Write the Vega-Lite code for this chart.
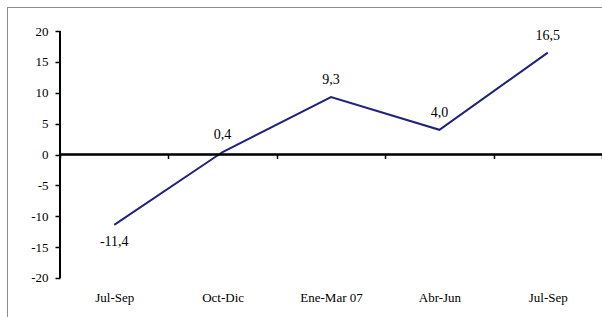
{
  "$schema": "https://vega.github.io/schema/vega-lite/v6.json",
  "width": 594,
  "height": 310,
  "padding": {"left": 8, "top": 7, "right": 0, "bottom": 0},
  "autosize": {"type": "none"},
  "background": "white",
  "config": {"view": {"stroke": null}, "font": "Liberation Serif"},
  "title": {
    "text": "(Tasa de variación respecto de igual trimestre del año anterior)",
    "font": "Liberation Serif",
    "fontSize": 15,
    "fontWeight": "normal",
    "color": "black",
    "anchor": "middle",
    "frame": "group",
    "baseline": "alphabetic",
    "offset": 4
  },
  "data": {
    "values": [
      {"q": "2006-3", "v": -11.4, "t": "-11,4"},
      {"q": "2006-4", "v": 0.4, "t": "0,4"},
      {"q": "2007-1", "v": 9.3, "t": "9,3"},
      {"q": "2007-2", "v": 4.0, "t": "4,0"},
      {"q": "2007-3", "v": 16.5, "t": "16,5"}
    ]
  },
  "resolve": {"axis": {"x": "independent", "y": "independent"}},
  "layer": [
    {
      "mark": {"type": "line", "color": "#22227a", "strokeWidth": 2},
      "encoding": {
        "x": {
          "field": "q", "type": "nominal", "sort": null,
          "scale": {"type": "band", "domain": ["2006-3", "2006-4", "2007-1", "2007-2", "2007-3"], "paddingInner": 0, "paddingOuter": 0.24, "align": 1},
          "axis": {
            "orient": "bottom", "offset": -162.5, "title": null, "domain": false,
            "tickBand": "extent", "tickSize": 4, "tickColor": "black", "tickWidth": 1.5,
            "labelPadding": 133, "labelFont": "Liberation Serif", "labelFontSize": 13,
            "labelColor": "black", "labelAngle": 0, "grid": false,
            "labelExpr": "datum.value == '2006-3' ? 'Jul-Sep' : datum.value == '2006-4' ? 'Oct-Dic' : datum.value == '2007-1' ? 'Ene-Mar 07' : datum.value == '2007-2' ? 'Abr-Jun' : datum.value == '2007-3' ? 'Jul-Sep' : ''"
          }
        },
        "y": {
          "field": "v", "type": "quantitative",
          "scale": {"domain": [-26.316, 23.887], "nice": false, "zero": false},
          "axis": {
            "orient": "left", "offset": -52, "title": null, "domain": false,
            "values": [-20, -15, -10, -5, 0, 5, 10, 15, 20],
            "labelExpr": "toString(datum.value)",
            "tickSize": 5, "tickColor": "black", "tickWidth": 1.5,
            "labelPadding": 7, "labelFont": "Liberation Serif", "labelFontSize": 13,
            "labelColor": "black", "grid": false
          }
        }
      }
    },
    {
      "mark": {"type": "rule", "color": "#8c8c8c", "strokeWidth": 1},
      "encoding": {
        "x": {"datum": "2006-3", "bandPosition": -0.4847, "axis": null},
        "y": {"datum": 23.806, "axis": null},
        "y2": {"datum": -26.5}
      }
    },
    {
      "mark": {"type": "rule", "color": "#8c8c8c", "strokeWidth": 1},
      "encoding": {
        "x": {"datum": "2006-3", "bandPosition": -0.4847, "axis": null},
        "x2": {"datum": "2007-3", "bandPosition": 1},
        "y": {"datum": 23.806, "axis": null}
      }
    },
    {
      "transform": [{"filter": "datum.v >= 0"}],
      "mark": {"type": "text", "font": "Liberation Serif", "fontSize": 14, "color": "black", "dy": -17, "baseline": "middle"},
      "encoding": {
        "x": {"field": "q", "type": "nominal", "sort": null, "axis": null},
        "y": {"field": "v", "type": "quantitative", "axis": null},
        "text": {"field": "t"}
      }
    },
    {
      "transform": [{"filter": "datum.v < 0"}],
      "mark": {"type": "text", "font": "Liberation Serif", "fontSize": 14, "color": "black", "dy": 17, "baseline": "middle"},
      "encoding": {
        "x": {"field": "q", "type": "nominal", "sort": null, "axis": null},
        "y": {"field": "v", "type": "quantitative", "axis": null},
        "text": {"field": "t"}
      }
    },
    {
      "mark": {"type": "rule", "color": "black", "strokeWidth": 2},
      "encoding": {
        "x": {"datum": "2006-3", "bandPosition": 0, "axis": null},
        "y": {"datum": -20, "axis": null},
        "y2": {"datum": 20}
      }
    },
    {
      "mark": {"type": "rule", "color": "black", "strokeWidth": 1.5},
      "encoding": {
        "x": {"datum": "2006-3", "bandPosition": 0, "axis": null},
        "x2": {"datum": "2007-3", "bandPosition": 1},
        "y": {"datum": 0, "axis": null}
      }
    }
  ]
}
